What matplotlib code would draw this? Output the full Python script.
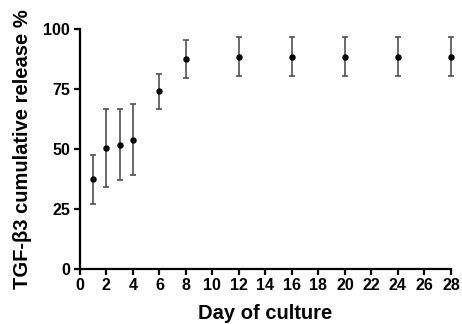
#!/usr/bin/env python3
"""TGF-beta3 cumulative release over days of culture (mean +/- SD)."""
import matplotlib

matplotlib.use("Agg")
import matplotlib.pyplot as plt

DAYS = [1, 2, 3, 4, 6, 8, 12, 16, 20, 24, 28]
RELEASE = [37.3, 50.4, 51.8, 53.9, 74.0, 87.5, 88.5, 88.5, 88.5, 88.5, 88.5]
SD = [10.2, 16.3, 15.0, 14.7, 7.3, 7.8, 8.2, 8.2, 8.2, 8.2, 8.2]

X_TICKS = list(range(0, 29, 2))
Y_TICKS = [0, 25, 50, 75, 100]

plt.rcParams["font.family"] = ["Liberation Sans", "DejaVu Sans"]
plt.rcParams["font.weight"] = "bold"


def main():
    fig = plt.figure(figsize=(4.62, 3.24), dpi=100)
    ax = fig.add_axes([0.173, 0.171, 0.803, 0.739])

    ax.errorbar(DAYS, RELEASE, yerr=SD, fmt="o", color="black", ms=3.6,
                ecolor="#505050", elinewidth=1.2, capsize=2.4, capthick=1.2,
                clip_on=False, zorder=3)

    ax.set_xlim(0, 28)
    ax.set_ylim(0, 100)
    ax.set_xticks(X_TICKS)
    ax.set_yticks(Y_TICKS)

    for side in ("top", "right"):
        ax.spines[side].set_visible(False)
    for side in ("left", "bottom"):
        ax.spines[side].set_linewidth(1.6)
    ax.tick_params(width=1.6, length=4, labelsize=11.5, pad=3)
    for lab in ax.get_xticklabels() + ax.get_yticklabels():
        lab.set_fontweight("bold")

    ax.set_xlabel("Day of culture", fontsize=14.5, fontweight="bold")
    ax.set_ylabel("TGF-\u03b23 cumulative release %", fontsize=14.5,
                  fontweight="bold")
    ax.xaxis.set_label_coords(0.5, -0.147)
    ax.yaxis.set_label_coords(-0.13, 0.5)

    fig.savefig("out.png", dpi=100)


if __name__ == "__main__":
    main()
